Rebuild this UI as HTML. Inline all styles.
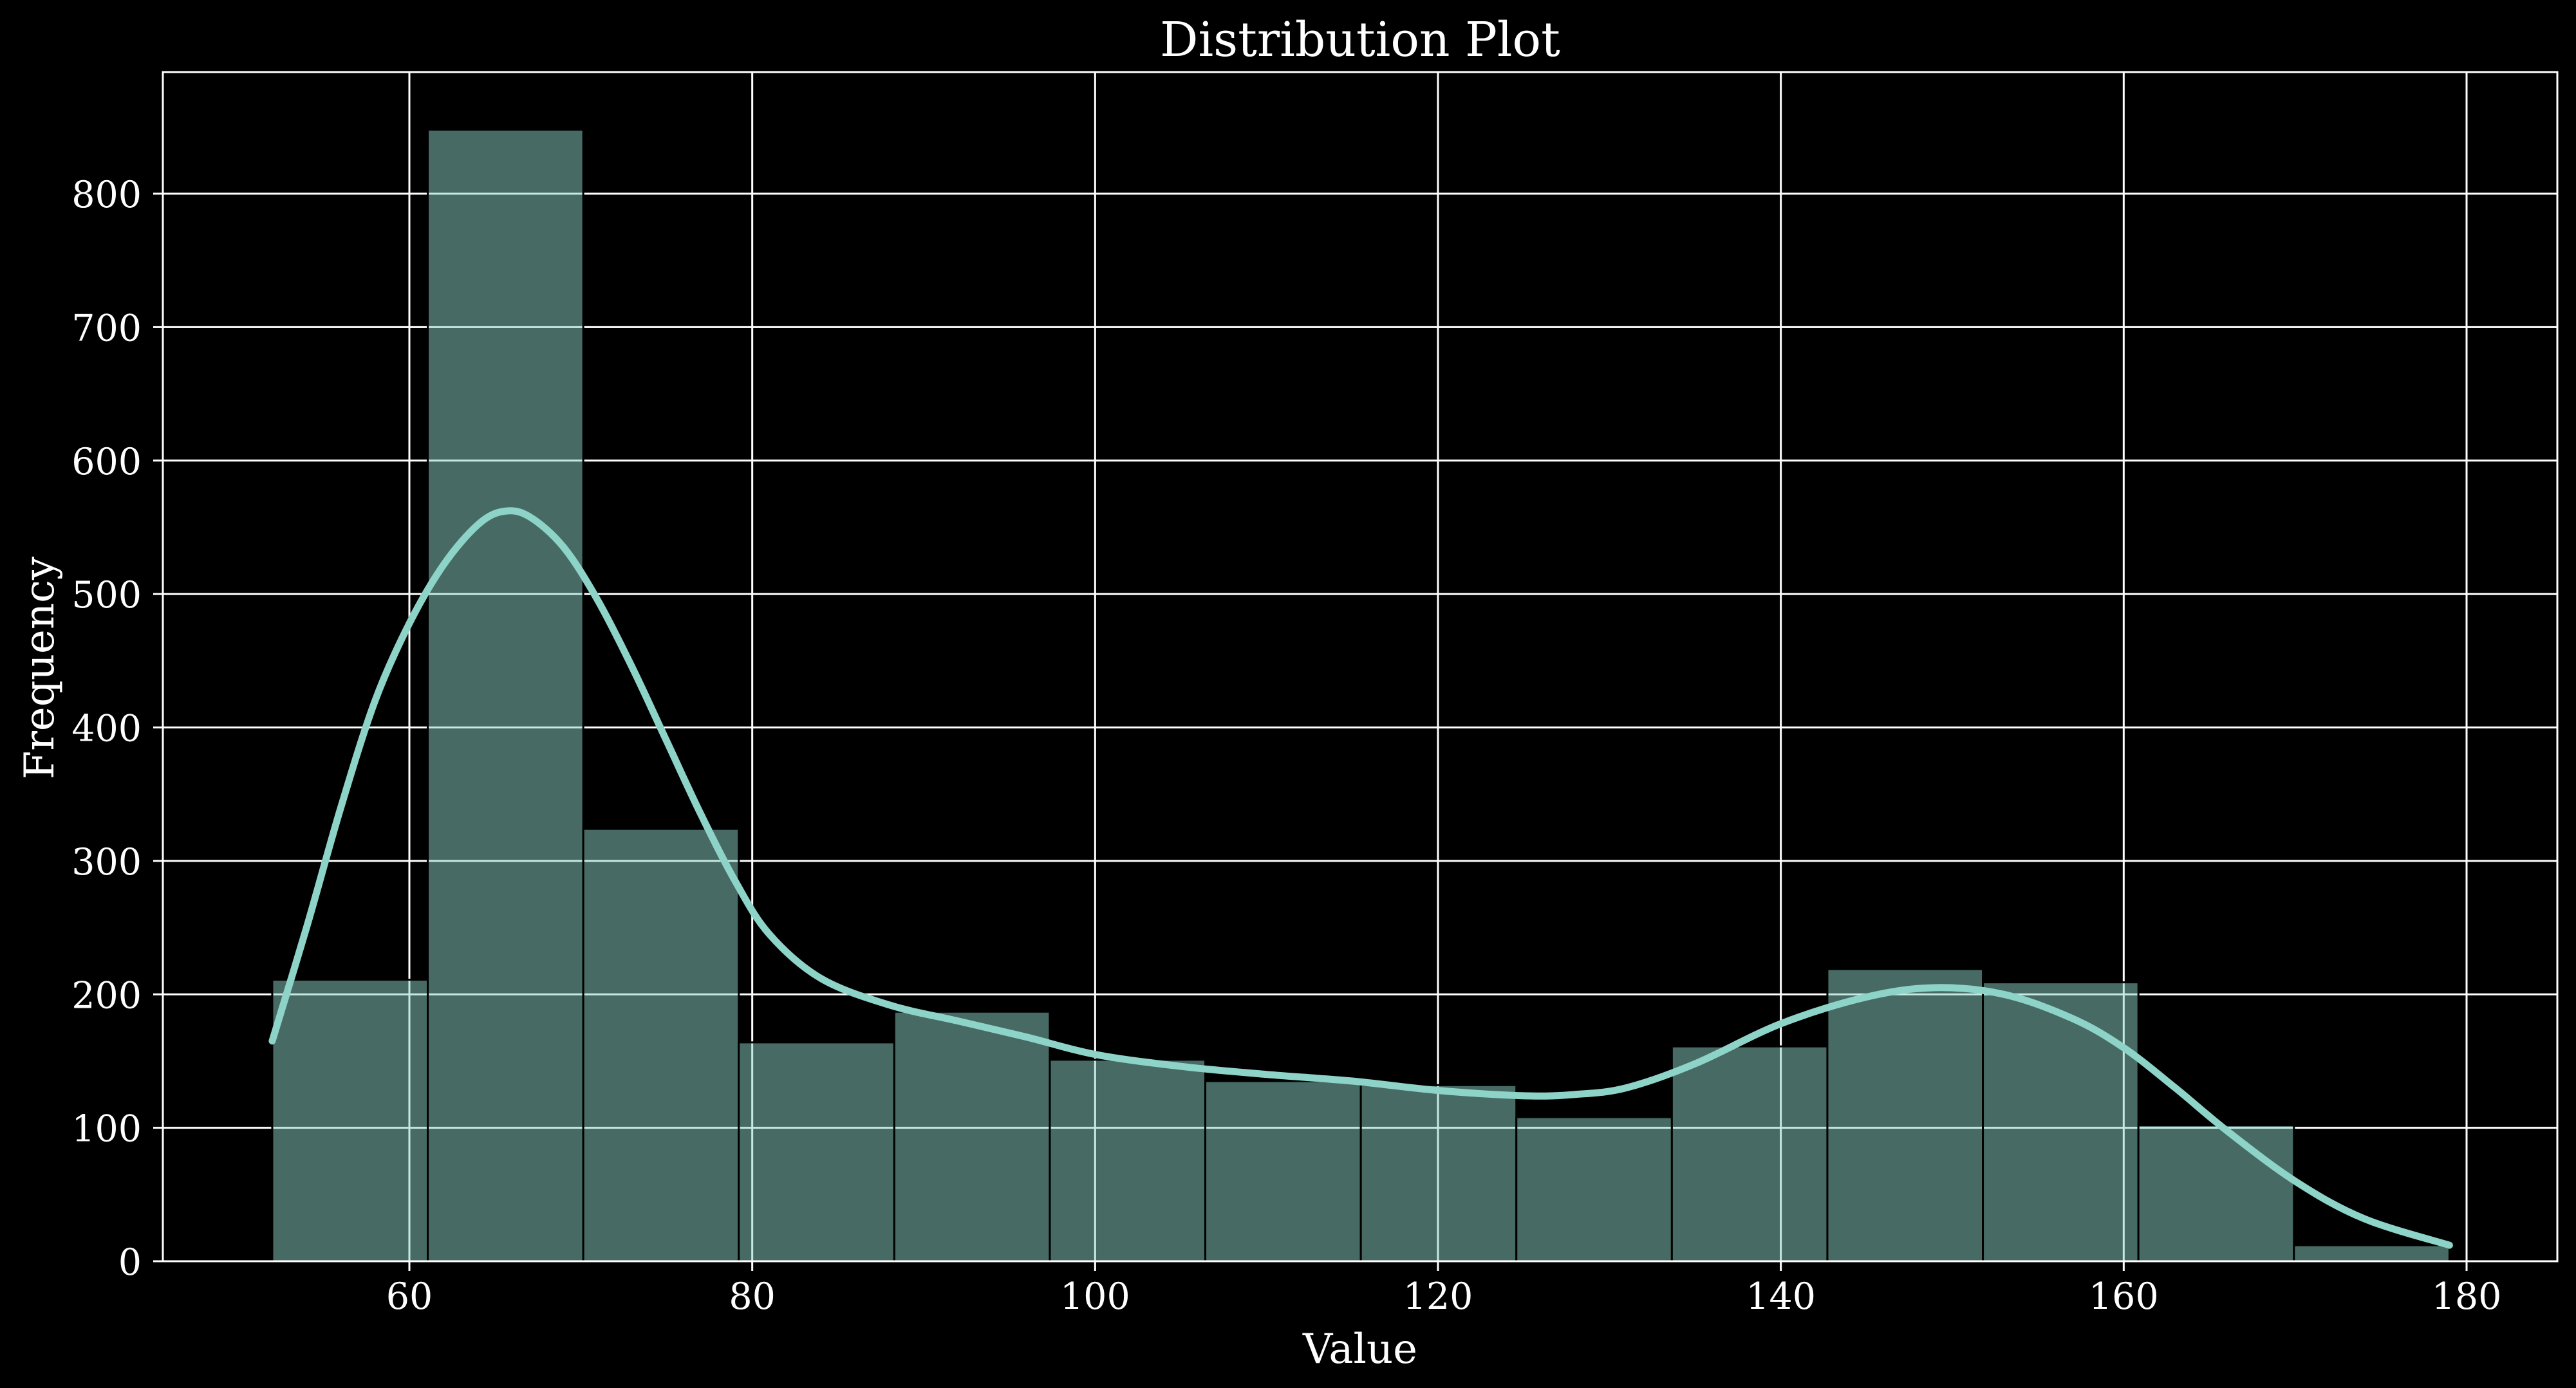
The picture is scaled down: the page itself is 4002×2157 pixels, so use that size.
<!DOCTYPE html>
<html><head><meta charset="utf-8"><style>
html,body{margin:0;padding:0;background:#000;}
svg{display:block;}
text{font-family:"DejaVu Serif","Liberation Serif",serif;fill:#fff;}
</style></head><body>
<svg id="chart" width="4002" height="2157" viewBox="0 0 4002 2157" xmlns="http://www.w3.org/2000/svg">
<rect x="0" y="0" width="4002" height="2157" fill="#000"/>
<g id="grid"></g>
<g id="bars"></g>
<g id="kde"></g>
<g id="axes"></g>
<text x="2113" y="87" font-size="74" text-anchor="middle">Distribution Plot</text>
<text x="2113" y="2118" font-size="64" text-anchor="middle">Value</text>
<text x="83" y="1038" font-size="64" text-anchor="middle" transform="rotate(-90 83 1038)">Frequency</text>
</svg>
<script>
const binStart = 52;
const binEnd = 179;
const binCounts = [211, 848, 324, 164, 187, 151, 135, 132, 108, 161, 219, 209, 102, 12];
const kdeX = [52, 54, 56, 58, 60, 62, 64, 65.5, 67, 69, 71, 73, 75, 77, 79, 81, 84, 88, 92, 96, 100, 105, 110, 115, 120, 125, 128, 131, 135, 140, 145, 149, 153, 157, 160, 163, 166, 170, 174, 179];
const kdeY = [165, 250, 340, 420, 478, 522, 552, 562, 558, 535, 495, 445, 390, 335, 285, 245, 212, 192, 180, 168, 155, 146, 140, 135, 128, 124, 125, 130, 148, 178, 198, 205, 200, 182, 160, 130, 98, 60, 32, 12];
const xTicks = [60, 80, 100, 120, 140, 160, 180];
const yTicks = [0, 100, 200, 300, 400, 500, 600, 700, 800];

const L = 253, R = 3973, T = 112, B = 1960;
function xs(v){ return 636 + (v - 60) * (3832 - 636) / 120; }
function ys(v){ return 1960 - v * (1960 - 301) / 800; }
const NS = "http://www.w3.org/2000/svg";
function mk(tag, attrs, parent){
  const e = document.createElementNS(NS, tag);
  for (const k in attrs) e.setAttribute(k, attrs[k]);
  parent.appendChild(e);
  return e;
}
const grid = document.getElementById('grid');
const bars = document.getElementById('bars');
const kde = document.getElementById('kde');
const axes = document.getElementById('axes');

xTicks.forEach(t => {
  const x = xs(t);
  const g = mk('line', {x1:x, x2:x, y1:T, y2:B, stroke:'#fff', 'stroke-width':3}, grid);
  
  
  const tk = mk('line', {x1:x, x2:x, y1:B, y2:B+15, stroke:'#fff', 'stroke-width':3}, axes);
  
  
  const lb = mk('text', {x:x, y:2034, 'font-size':57, 'text-anchor':'middle'}, axes);
  lb.textContent = t;
  
  
});
yTicks.forEach(t => {
  const y = ys(t);
  const g = mk('line', {x1:L, x2:R, y1:y, y2:y, stroke:'#fff', 'stroke-width':3}, grid);
  
  
  const tk = mk('line', {x1:L-15, x2:L, y1:y, y2:y, stroke:'#fff', 'stroke-width':3}, axes);
  
  
  const lb = mk('text', {x:220, y:y+21, 'font-size':57, 'text-anchor':'end'}, axes);
  lb.textContent = t;
  
  
});

const bw = (binEnd - binStart) / binCounts.length;
binCounts.forEach((c, i) => {
  const x0 = xs(binStart + i * bw), x1 = xs(binStart + (i + 1) * bw);
  const r = mk('rect', {x:x0, y:ys(c), width:x1 - x0, height:B - ys(c), fill:'#8dd3c7', 'fill-opacity':0.5, stroke:'#000', 'stroke-width':3}, bars);
  
  
});

const pts = kdeX.map((v, i) => [xs(v), ys(kdeY[i])]);
let d = 'M' + pts[0][0].toFixed(1) + ' ' + pts[0][1].toFixed(1);
for (let i = 0; i < pts.length - 1; i++) {
  const p0 = pts[Math.max(0, i - 1)], p1 = pts[i], p2 = pts[i + 1], p3 = pts[Math.min(pts.length - 1, i + 2)];
  const c1x = p1[0] + (p2[0] - p0[0]) / 6, c1y = p1[1] + (p2[1] - p0[1]) / 6;
  const c2x = p2[0] - (p3[0] - p1[0]) / 6, c2y = p2[1] - (p3[1] - p1[1]) / 6;
  d += ' C' + c1x.toFixed(1) + ' ' + c1y.toFixed(1) + ' ' + c2x.toFixed(1) + ' ' + c2y.toFixed(1) + ' ' + p2[0].toFixed(1) + ' ' + p2[1].toFixed(1);
}
const p = mk('path', {d:d, fill:'none', stroke:'#8dd3c7', 'stroke-width':11, 'stroke-linejoin':'round', 'stroke-linecap':'round'}, kde);



const frame = mk('rect', {x:L, y:T, width:R - L, height:B - T, fill:'none', stroke:'#fff', 'stroke-width':3}, axes);


</script>
</body></html>
